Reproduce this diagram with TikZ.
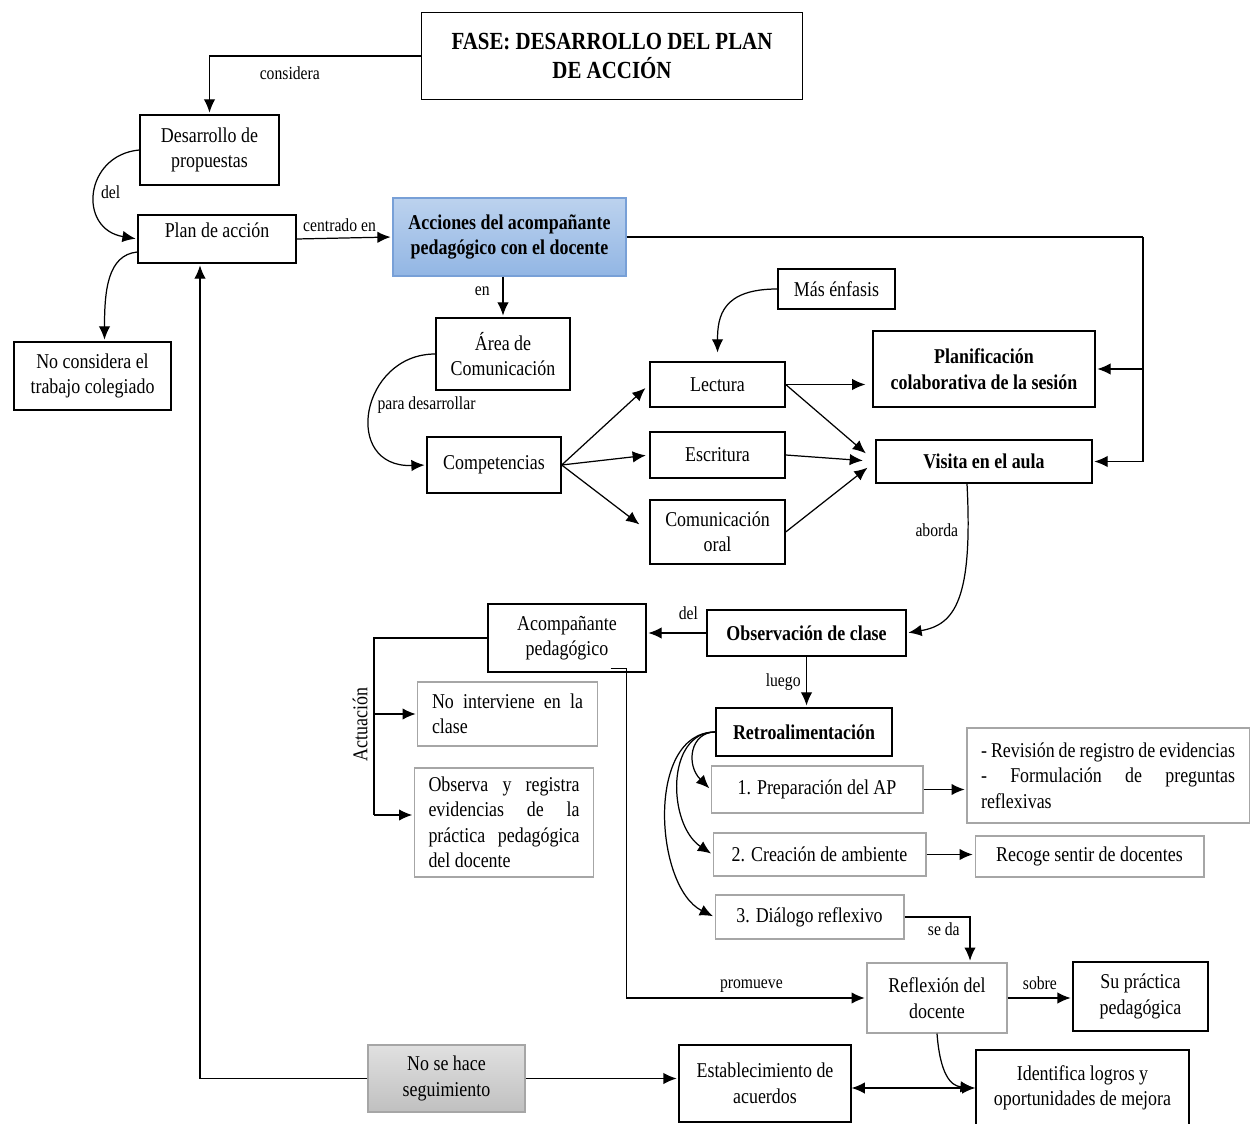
\documentclass[tikz,border=0pt]{standalone}
\usepackage{fontspec}
\setmainfont{Liberation Serif}[FakeStretch=0.85]
\usepackage{xcolor}
\usepackage{tikz}
\usetikzlibrary{calc, arrows.meta}

\definecolor{acctop}{RGB}{188,210,238}
\definecolor{accbot}{RGB}{146,182,228}
\definecolor{accline}{RGB}{120,160,215}
\definecolor{greytop}{RGB}{224,224,224}
\definecolor{greybot}{RGB}{192,192,192}

\begin{document}
\begin{tikzpicture}[x=0.02cm, y=-0.02cm,
        box/.style={rectangle, draw, align=center, font=\fontsize{12}{14.5}\selectfont, line width=0.8pt, inner sep=2pt},
        boldbox/.style={box, font=\fontsize{12}{14.5}\selectfont\bfseries},
        softbox/.style={box, draw=black!35, line width=0.6pt},
        note/.style={softbox, align=justify, execute at begin node={\hyphenpenalty=10000\exhyphenpenalty=10000}},
        lbl/.style={font=\fontsize{10.5}{12}\selectfont, inner sep=3pt},
        arrow/.style={draw, -{Latex[length=7.5pt, width=6.5pt]}, line width=0.7pt, shorten >=1pt},
        bidirectional/.style={draw, {Latex[length=7.5pt, width=6.5pt]}-{Latex[length=7.5pt, width=6.5pt]}, line width=0.7pt},
        line/.style={draw, line width=0.7pt}
    ]
        \useasboundingbox (0,0) rectangle (1257,1124);

        % Nodes
        \node [box, font=\fontsize{14}{17}\selectfont\bfseries, minimum width=7.62cm, minimum height=1.74cm] (fase) at (612,56) {FASE: DESARROLLO DEL PLAN\\ DE ACCIÓN};

        \node [box, minimum width=2.78cm, minimum height=1.4cm] (desarrollo) at (209.5,150) {Desarrollo de\\ propuestas};
        \node [box, minimum width=3.16cm, minimum height=0.96cm, text depth=10pt] (plan) at (217,239) {Plan de acción};
        \node [box, minimum width=3.14cm, minimum height=1.36cm] (noconsidera) at (92.5,376) {No considera el\\ trabajo colegiado};

        \node [boldbox, top color=acctop, bottom color=accbot, draw=accline, minimum width=4.66cm, minimum height=1.56cm] (acciones) at (509.5,237) {Acciones del acompañante\\ pedagógico con el docente};

        \node [box, minimum width=2.68cm, minimum height=1.44cm] (area) at (503,354) {Área de\\ Comunicación};
        \node [box, minimum width=2.68cm, minimum height=1.12cm] (competencias) at (494,465) {Competencias};

        \node [box, minimum width=2.34cm, minimum height=0.8cm] (masenfasis) at (836.5,289) {Más énfasis};
        \node [box, minimum width=2.7cm, minimum height=0.9cm] (lectura) at (717.5,384.5) {Lectura};
        \node [box, minimum width=2.7cm, minimum height=0.92cm] (escritura) at (717.5,455) {Escritura};
        \node [box, minimum width=2.7cm, minimum height=1.28cm] (comoral) at (717.5,532) {Comunicación\\ oral};

        \node [boldbox, minimum width=4.44cm, minimum height=1.52cm] (planificacion) at (984,369) {Planificación\\ colaborativa de la sesión};
        \node [boldbox, minimum width=4.32cm, minimum height=0.86cm] (visita) at (984,461.5) {Visita en el aula};

        \node [boldbox, minimum width=3.98cm, minimum height=0.92cm] (observacion) at (806.5,633) {Observación de clase};
        \node [box, minimum width=3.16cm, minimum height=1.36cm] (acompanante) at (567,638) {Acompañante\\ pedagógico};

        \node [note, text width=3.02cm, inner xsep=8pt, minimum height=1.28cm] (nointerviene) at (507.5,714) {No interviene en la clase};
        \node [note, text width=3.02cm, inner xsep=8pt, minimum height=2.18cm] (observa) at (504,822.5) {Observa y registra evidencias de la práctica pedagógica del docente};

        \node [boldbox, minimum width=3.52cm, minimum height=0.96cm] (retro) at (804,732) {Retroalimentación};
        \node [softbox, minimum width=4.24cm, minimum height=0.94cm] (prep) at (817,789.5) {1. Preparación del AP};
        \node [softbox, minimum width=4.26cm, minimum height=0.86cm] (creacion) at (819.5,854.5) {2. Creación de ambiente};
        \node [softbox, minimum width=3.78cm, minimum height=0.88cm] (dialogo) at (809.5,917) {3. Diálogo reflexivo};

        \node [note, text width=5.08cm, inner xsep=8pt, minimum height=1.9cm] (revision) at (1108,775.5) {- Revisión de registro de evidencias\\ - Formulación de preguntas reflexivas};
        \node [softbox, minimum width=4.58cm, minimum height=0.82cm] (recoge) at (1089.5,856.5) {Recoge sentir de docentes};

        \node [softbox, minimum width=2.8cm, minimum height=1.4cm] (reflexion) at (937,998) {Reflexión del\\ docente};
        \node [box, minimum width=2.7cm, minimum height=1.38cm] (supractica) at (1140.5,996.5) {Su práctica\\ pedagógica};

        \node [softbox, top color=greytop, bottom color=greybot, minimum width=3.14cm, minimum height=1.34cm] (noseguimiento) at (446.5,1078.5) {No se hace\\ seguimiento};
        \node [box, minimum width=3.44cm, minimum height=1.54cm] (establecimiento) at (765,1083.5) {Establecimiento de\\ acuerdos};
        \node [box, minimum width=4.26cm, minimum height=1.52cm] (identifica) at (1082.5,1088) {Identifica logros y\\ oportunidades de mejora};

        % Connections
        \path [arrow] (fase.west) -| node[lbl, below, pos=0.31, yshift=-0.1cm] {considera} (desarrollo.north);
        \path [arrow] (desarrollo.west) .. controls +(-55,5) and +(-60,-10) .. node[lbl, right, pos=0.5] {del} (plan.west);
        \path [arrow] ($(plan.west)+(0,13)$) .. controls +(-30,3) and +(0,-50) .. ($(noconsidera.north)+(12,0)$);
        \path [arrow] (plan.east) -- node[lbl, above, xshift=-0.1cm] {centrado en} (acciones.west);

        \path [arrow] (area.north |- acciones.south) -- node[lbl, left, pos=0.35, xshift=-0.15cm] {en} (area.north);
        \path [arrow] (area.west) .. controls +(-75,0) and +(-85,3) .. node[lbl, right, pos=0.47] {para desarrollar} (competencias.west);

        \path [arrow, shorten >=3pt] (competencias.east) -- (lectura.west);
        \path [arrow, shorten >=2pt] (competencias.east) -- (escritura.west);
        \path [arrow, shorten >=0.25cm] (competencias.east) -- (comoral.west);

        \path [arrow, shorten >=5pt] (masenfasis.west) .. controls +(-55,0) and +(0,-45) .. (lectura.north);

        \path [arrow, shorten >=4pt] (lectura.east) -- (lectura.east -| planificacion.west);
        \path [arrow, shorten >=0.25cm] (lectura.east) -- (visita.west);
        \path [arrow, shorten >=0.25cm] (escritura.east) -- (visita.west);
        \path [arrow, shorten >=0.2cm] (comoral.east) -- (visita.west);

        % Right-hand bus from the main box
        \coordinate (bus) at (1143,237);
        \path [line] (acciones.east) -- (bus);
        \path [arrow] (bus) |- (visita.east);
        \path [arrow] (bus |- planificacion.east) -- (planificacion.east);

        \path [arrow] ($(visita.south)+(-17,0)$) .. controls +(6,116) and +(48,-8) .. node[lbl, left, pos=0.15, xshift=-0.08cm] {aborda} (observacion.east);
        \path [arrow] (observacion.west) -- node[lbl, above, pos=0.3, yshift=0.15cm] {del} (observacion.west -| acompanante.east);
        \path [arrow] (observacion.south) -- node[lbl, left, pos=0.5] {luego} (observacion.south |- retro.north);

        % Actuacion
        \coordinate (actbot) at (374,815);
        \path [line] (acompanante.west) -| node[font=\fontsize{12}{14.5}\selectfont, rotate=90, above, pos=0.745] {Actuación} (actbot);
        \path [arrow] (actbot |- nointerviene.west) -- (nointerviene.west);
        \path [arrow] (actbot) -- (actbot -| observa.west);

        \path [arrow] ($(acompanante.south east)+(-36,-4)$) -- ++(16,0) |- node[lbl, above, pos=0.76] {promueve} (reflexion.west);

        % Retroalimentacion
        \path [arrow] (retro.west) .. controls +(-25,0) and +(-25,-25) .. (prep.west);
        \path [arrow] (retro.west) .. controls +(-50,0) and +(-45,-30) .. (creacion.west);
        \path [arrow] (retro.west) .. controls +(-70,0) and +(-60,-30) .. (dialogo.west);
        \path [arrow] (prep.east) -- (prep.east -| revision.west);
        \path [arrow] (creacion.east) -- (creacion.east -| recoge.west);
        \path [arrow] (dialogo.east) -| node[lbl, below, pos=0.3] {se da} ($(reflexion.north)+(33,0)$);

        \path [arrow] (reflexion.east) -- node[lbl, above, yshift=0.05cm] {sobre} (reflexion.east -| supractica.west);
        \path [arrow] (reflexion.south) .. controls +(3,40) and +(-25,-2) .. (identifica.west);
        \path [bidirectional] (establecimiento.east |- identifica.west) -- (identifica.west);

        \path [arrow] (noseguimiento.east) -- (noseguimiento.east -| establecimiento.west);
        \path [arrow] (noseguimiento.west) -| ($(plan.south)+(-17,0)$);

    \end{tikzpicture}
\end{document}
